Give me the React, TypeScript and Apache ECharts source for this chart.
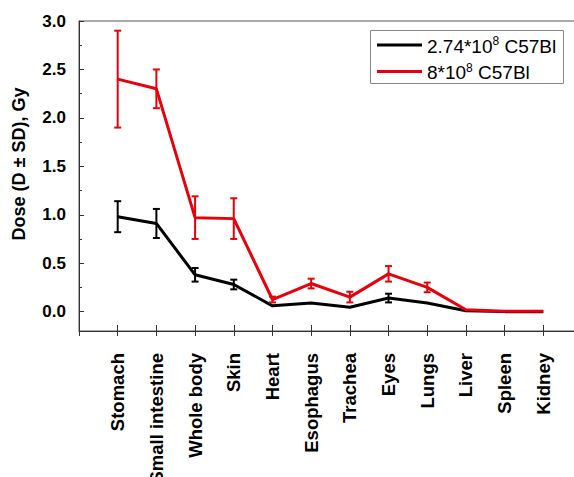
import React, { useEffect, useRef } from "react";
import * as echarts from "echarts";

const categories = [
  "Stomach",
  "Small intestine",
  "Whole body",
  "Skin",
  "Heart",
  "Esophagus",
  "Trachea",
  "Eyes",
  "Lungs",
  "Liver",
  "Spleen",
  "Kidney",
];

// 2.74*10^8 C57Bl (black)
const lowMean = [0.98, 0.91, 0.38, 0.28, 0.06, 0.088, 0.045, 0.14, 0.09, 0.01, 0.0, 0.0];
const lowSD = [0.16, 0.15, 0.07, 0.05, 0, 0, 0, 0.045, 0, 0, 0, 0];

// 8*10^8 C57Bl (red)
const highMean = [2.4, 2.3, 0.97, 0.96, 0.125, 0.29, 0.15, 0.39, 0.25, 0.02, 0.005, 0.005];
const highSD = [0.5, 0.2, 0.22, 0.21, 0.03, 0.05, 0.055, 0.08, 0.05, 0, 0, 0];

const yMajorTicks = [0, 0.5, 1.0, 1.5, 2.0, 2.5, 3.0];
const yMinorTicks = [0.25, 0.75, 1.25, 1.75, 2.25, 2.75];
const xTickPositions = categories.map((_, i) => i + 1);

const legendNames = ["2.74*10{sup|8} C57Bl", "8*10{sup|8} C57Bl"];

const FONT = "Liberation Sans, Arial, sans-serif";

function errorSeries(mean: number[], sd: number[], color: string) {
  const data = mean
    .map((m, i) => [i + 1, m - sd[i], m + sd[i], sd[i]])
    .filter((d) => d[3] > 0);
  return {
    type: "custom",
    xAxisIndex: 0,
    yAxisIndex: 0,
    data,
    encode: { x: 0, y: [1, 2] },
    renderItem: (_params: any, api: any) => {
      const x = api.value(0);
      const lo = api.value(1);
      const hi = api.value(2);
      const pTop = api.coord([x, hi]);
      const pBot = api.coord([x, lo]);
      const cap = 3.5;
      const style = { stroke: color, lineWidth: 2 };
      return {
        type: "group",
        children: [
          { type: "line", shape: { x1: pTop[0], y1: pTop[1], x2: pBot[0], y2: pBot[1] }, style },
          { type: "line", shape: { x1: pTop[0] - cap, y1: pTop[1], x2: pTop[0] + cap, y2: pTop[1] }, style },
          { type: "line", shape: { x1: pBot[0] - cap, y1: pBot[1], x2: pBot[0] + cap, y2: pBot[1] }, style },
        ],
      };
    },
    z: 5,
  };
}

export default function App() {
  const ref = useRef<HTMLDivElement>(null);

  useEffect(() => {
    if (!ref.current) return;
    const chart = echarts.init(ref.current, undefined, { renderer: "svg" });
    const axisColor = "#333";
    const option: any = {
      animation: false,
      backgroundColor: "#fff",
      grid: {
        left: 79,
        top: 21,
        right: -8,
        bottom: 146,
        containLabel: false,
        outerBoundsMode: "none",
        show: true,
        borderColor: "#555",
        borderWidth: 1,
      },
      xAxis: [
        {
          type: "value",
          min: 0,
          max: 13,
          interval: 1,
          position: "bottom",
          axisLine: { show: true, onZero: false, lineStyle: { color: axisColor, width: 1 } },
          axisTick: { show: true, inside: false, length: 5, lineStyle: { color: axisColor } },
          axisLabel: {
            customValues: xTickPositions,
            formatter: (v: number) => categories[Math.round(v) - 1] || "",
            rotate: 90,
            margin: 22,
            color: "#000",
            fontFamily: FONT,
            fontWeight: "bold",
            fontSize: 18.5,
          },
          splitLine: { show: false },
        },
        {
          type: "value",
          min: 0,
          max: 13,
          interval: 1,
          position: "bottom",
          axisLine: { show: false, onZero: false },
          axisTick: { show: true, inside: true, length: 6, lineStyle: { color: axisColor } },
          axisLabel: { show: false },
          splitLine: { show: false },
        },
      ],
      yAxis: [
        {
          type: "value",
          min: -0.2,
          max: 3,
          position: "left",
          axisLine: { show: true, onZero: false, lineStyle: { color: axisColor, width: 1 } },
          axisTick: {
            show: true,
            inside: true,
            length: 5,
            customValues: yMajorTicks,
            lineStyle: { color: axisColor },
          },
          axisLabel: {
            customValues: yMajorTicks,
            formatter: (v: number) => v.toFixed(1),
            margin: 13,
            color: "#000",
            fontFamily: FONT,
            fontWeight: "bold",
            fontSize: 17,
          },
          splitLine: { show: false },
        },
        {
          type: "value",
          min: -0.2,
          max: 3,
          position: "left",
          axisLine: { show: false, onZero: false },
          axisTick: {
            show: true,
            inside: true,
            length: 3,
            customValues: yMinorTicks,
            lineStyle: { color: axisColor },
          },
          axisLabel: { show: false },
          splitLine: { show: false },
        },
      ],
      series: [
        {
          type: "line",
          xAxisIndex: 0,
          yAxisIndex: 0,
          data: lowMean.map((v, i) => [i + 1, v]),
          symbol: "none",
          lineStyle: { color: "#000", width: 3 },
          z: 3,
        },
        errorSeries(lowMean, lowSD, "#000"),
        {
          type: "line",
          xAxisIndex: 0,
          yAxisIndex: 0,
          data: highMean.map((v, i) => [i + 1, v]),
          symbol: "none",
          lineStyle: { color: "#e8000b", width: 3 },
          z: 6,
        },
        { ...errorSeries(highMean, highSD, "#e8000b"), z: 7 },
      ],
      graphic: [
        {
          type: "text",
          x: 19,
          y: 164,
          rotation: Math.PI / 2,
          style: {
            text: "Dose (D ± SD), Gy",
            fontFamily: FONT,
            fontWeight: "bold",
            fontSize: 18,
            fill: "#000",
            align: "center",
            verticalAlign: "middle",
          },
        },
        {
          type: "rect",
          shape: { x: 370.5, y: 30.5, width: 193, height: 53 },
          style: { fill: "#fff", stroke: "#888", lineWidth: 1 },
          z: 10,
        },
        {
          type: "line",
          shape: { x1: 377, y1: 45, x2: 422, y2: 45 },
          style: { stroke: "#000", lineWidth: 3 },
          z: 11,
        },
        {
          type: "line",
          shape: { x1: 377, y1: 71.5, x2: 422, y2: 71.5 },
          style: { stroke: "#e8000b", lineWidth: 3 },
          z: 11,
        },
        ...legendNames.map((name, i) => ({
          type: "text",
          x: 427,
          y: i === 0 ? 46 : 72.5,
          z: 11,
          style: {
            text: name.replace(/^([^{]+)/, "{a|$1}").replace(/\}([^{}]+)$/, "}{a|$1}"),
            fill: "#000",
            verticalAlign: "middle",
            align: "left",
            fontFamily: FONT,
            fontSize: 19,
            rich: {
              a: { fontFamily: FONT, fontSize: 19, lineHeight: 22, fill: "#000" },
              sup: {
                fontFamily: FONT,
                fontSize: 12,
                lineHeight: 12,
                verticalAlign: "top",
                fill: "#000",
              },
            },
          },
        })),
      ],
    };
    chart.setOption(option);
    return () => chart.dispose();
  }, []);

  return (
    <div
      ref={ref}
      style={{ position: "fixed", left: 0, top: 0, width: 574, height: 477 }}
    />
  );
}
